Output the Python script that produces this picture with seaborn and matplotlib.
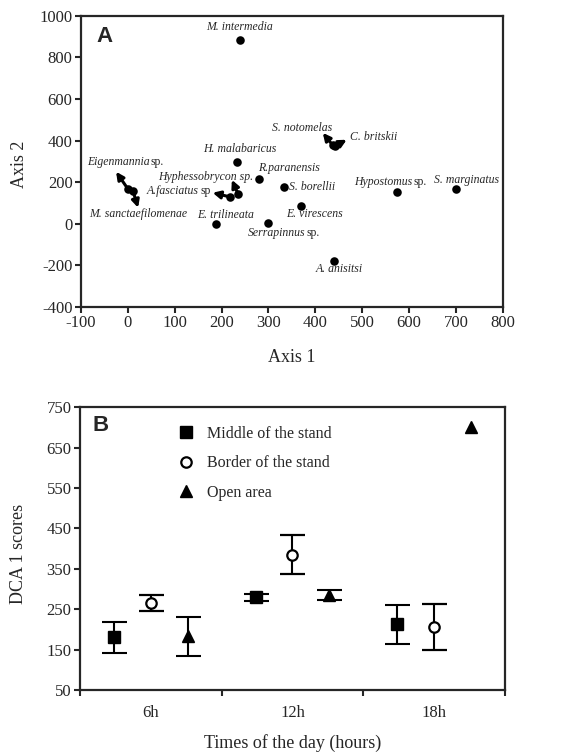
import numpy as np
import pandas as pd
import matplotlib
matplotlib.use("Agg")
import matplotlib.pyplot as plt
from matplotlib.lines import Line2D
import seaborn as sns

sns.set_style("ticks")
plt.rcParams['font.family'] = ['Liberation Serif', 'DejaVu Serif']
plt.rcParams['axes.unicode_minus'] = False

# Panel A: DCA ordination of species (italic name + upright suffix)
species = ["M. intermedia", "H. malabaricus", "R.paranensis", "S. borellii", "Hypostomus",
           "S. marginatus", "S. notomelas", "C. britskii", "E. trilineata", "Serrapinnus",
           "E. virescens", "A. anisitsi", "A.fasciatus", "Hyphessobrycon sp.", "Eigenmannia",
           "M. sanctaefilomenae"]
suffix = ["", "", "", "", "sp.", "", "", "", "", "sp.", "", "", "sp", "", "sp.", ""]
axis1 = [239, 233, 280, 333, 574, 700, 437, 441, 188, 299, 369, 440, 218, 235, 0, 11]
axis2 = [885, 298, 216, 177, 153, 168, 378, 372, 0, 2, 86, -178, 129, 144, 168, 158]
# arrow tips (None = no arrow)
tip1 = [None, None, None, None, None, None, 416, 467, None, None, None, None, 181, 222, -25, 22]
tip2 = [None, None, None, None, None, None, 437, 404, None, None, None, None, 149, 211, 250, 77]

# label offsets (points) and alignment
lab_dx = [0, 2, -1, 4, -10, 8, 0, 11, 7, 6, 10, 4, -41, -23, -7, 4]
lab_dy = [9, 9, 8, 0, 7, 6, 12, 7, 6, -7, -6, -6, 4, 12, 19, -17]
lab_ha = ['center', 'center', 'left', 'left', 'center', 'center', 'right', 'left',
          'center', 'center', 'center', 'center', 'center', 'center', 'center', 'center']

# Panel B: DCA 1 scores by time of day
times = ["6h", "12h", "18h"]
groups = ["Middle of the stand", "Border of the stand", "Open area"]
middle_mean = [180, 279, 212]
middle_err = [38, 9, 48]
border_mean = [266, 385, 205]
border_err = [20, 49, 57]
open_mean = [183, 285, 700]
open_err = [48, 12, np.nan]

fig = plt.figure(figsize=(5.74, 7.54), dpi=100)
axA = fig.add_axes([0.141, 0.593, 0.735, 0.386])
axB = fig.add_axes([0.139, 0.085, 0.741, 0.375])

# ---- Panel A ----
dfA = pd.DataFrame({'species': species, 'axis1': axis1, 'axis2': axis2})
sns.scatterplot(data=dfA, x='axis1', y='axis2', color='black', s=38,
                edgecolor='black', linewidth=0, ax=axA, zorder=3)
for i, name in enumerate(species):
    if tip1[i] is not None:
        axA.annotate("", xy=(tip1[i], tip2[i]), xytext=(axis1[i], axis2[i]),
                     arrowprops=dict(arrowstyle='-|>', lw=2.2, color='black',
                                     mutation_scale=11, shrinkA=0, shrinkB=0))
    t = axA.annotate(name, xy=(axis1[i], axis2[i]), xytext=(lab_dx[i], lab_dy[i]),
                     textcoords='offset points', ha=lab_ha[i], va='center',
                     fontsize=8.5, fontstyle='italic')
    if suffix[i]:
        axA.annotate(suffix[i], xy=(1, 0.5), xycoords=t, xytext=(1, 0),
                     textcoords='offset points', ha='left', va='center', fontsize=8.5)

axA.set_xlim(-100, 800)
axA.set_ylim(-400, 1000)
axA.set_xticks(np.arange(-100, 801, 100))
axA.set_yticks(np.arange(-400, 1001, 200))
axA.tick_params(labelsize=12, width=1.5, length=4, pad=2)
axA.set_xlabel("Axis 1", fontsize=13)
axA.set_ylabel("Axis 2", fontsize=13)
axA.xaxis.set_label_coords(0.5, -0.145)
axA.yaxis.set_label_coords(-0.125, 0.49)
for sp in axA.spines.values():
    sp.set_linewidth(1.6)
axA.text(0.057, 0.93, "A", transform=axA.transAxes, fontsize=16, fontweight='bold',
         family='Liberation Sans', ha='center', va='center')

# ---- Panel B ----
centers = np.arange(len(times)) + 0.5
offsets = [-0.26, 0.0, 0.26]
styles = [dict(marker='s', ms=8.5, mfc='black', mec='black'),
          dict(marker='o', ms=7.5, mfc='white', mec='black', mew=1.6),
          dict(marker='^', ms=8.5, mfc='black', mec='black')]
means = [middle_mean, border_mean, open_mean]
errs = [middle_err, border_err, open_err]
for g in range(len(groups)):
    axB.errorbar(centers + offsets[g], means[g], yerr=errs[g], ls='none', ecolor='black',
                 elinewidth=1.5, capsize=9, capthick=1.5, zorder=3, **styles[g])

handles = [Line2D([], [], ls='none', **st) for st in styles]
axB.legend(handles, groups, loc='upper left', bbox_to_anchor=(0.231, 0.935),
           frameon=False, fontsize=11.5, handlelength=1.0, handletextpad=0.8,
           labelspacing=0.85, borderaxespad=0, borderpad=0)

axB.set_xlim(0, 3)
axB.set_ylim(50, 750)
axB.set_yticks(np.arange(50, 751, 100))
axB.set_xticks([0, 1, 2, 3])
axB.set_xticklabels([])
axB.set_xticks(centers, minor=True)
axB.set_xticklabels(times, minor=True)
axB.tick_params(axis='both', which='major', labelsize=12, width=1.5, length=4, pad=2)
axB.tick_params(axis='x', which='minor', length=0, labelsize=12, pad=11)
axB.set_xlabel("Times of the day (hours)", fontsize=13)
axB.set_ylabel("DCA 1 scores", fontsize=13)
axB.xaxis.set_label_coords(0.5, -0.155)
axB.yaxis.set_label_coords(-0.125, 0.48)
for sp in axB.spines.values():
    sp.set_linewidth(1.6)
axB.text(0.05, 0.936, "B", transform=axB.transAxes, fontsize=16, fontweight='bold',
         family='Liberation Sans', ha='center', va='center')

fig.savefig("out.png", dpi=100)
